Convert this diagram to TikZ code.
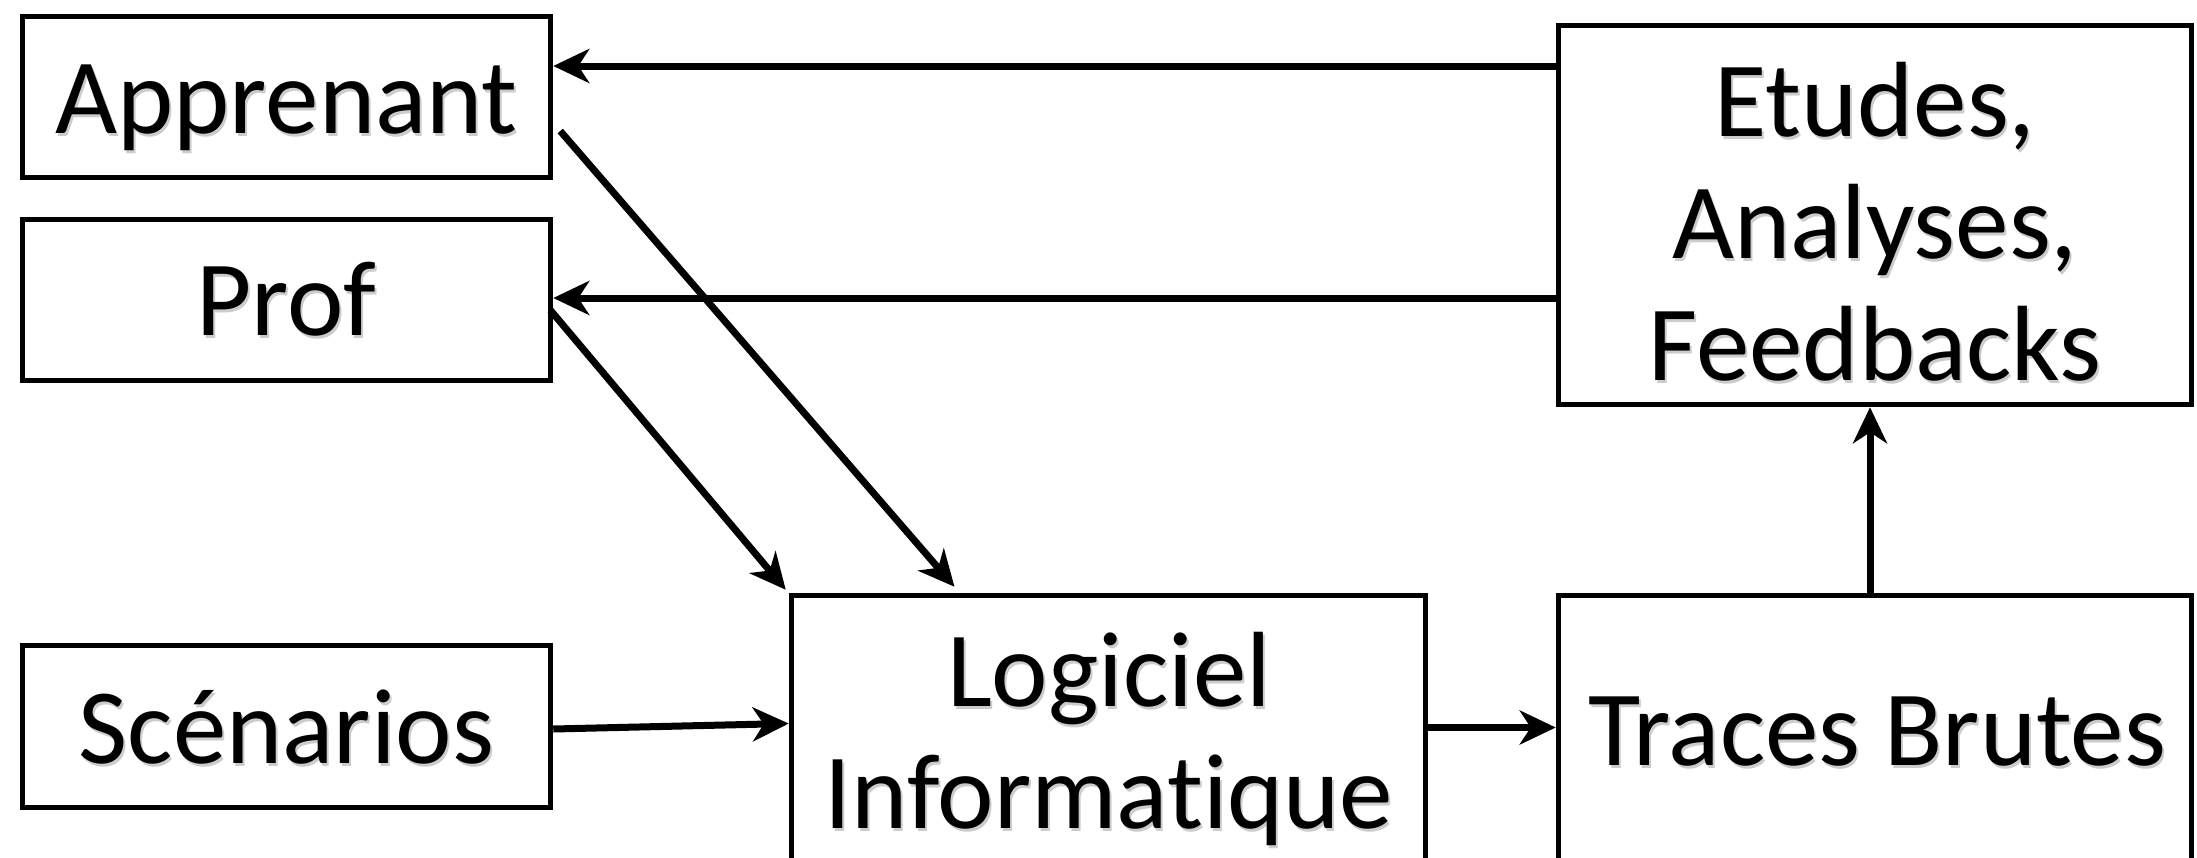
\documentclass[tikz,border=0pt]{standalone}
\usepackage{fontspec}
\setmainfont[Ligatures=NoCommon]{Carlito}
\usetikzlibrary{arrows.meta}
\newcommand\bigtxt{\fontsize{107}{122}\selectfont}
\tikzset{
  box/.style={draw=black, line width=5.5pt, fill=white, inner sep=0pt, shape=rectangle},
  lbl/.style={anchor=base, inner sep=0pt, font=\bigtxt, align=center, text=black},
  shd/.style={anchor=base, inner sep=0pt, font=\bigtxt, align=center, text=black, opacity=0.2},
  arr/.style={draw=black, line width=7pt, -{Stealth[length=36pt, width=34pt, inset=11pt]}},
}
\begin{document}
\begin{tikzpicture}[x=1pt, y=-1pt]
\useasboundingbox (0,0) rectangle (2197,857);
\clip (0,0) rectangle (2197,857);
\fill[white] (0,0) rectangle (2197,857);

% boxes
\node[box, minimum width=528pt, minimum height=161pt] (app) at (286.5,97) {};
\node[box, minimum width=528pt, minimum height=161pt] (prof) at (286.5,300) {};
\node[box, minimum width=528pt, minimum height=162pt] (scen) at (286.5,726.5) {};
\node[box, minimum width=634pt, minimum height=284pt] (logi) at (1108.5,737.5) {};
\node[box, minimum width=633pt, minimum height=284pt] (traces) at (1875,737.5) {};
\node[box, minimum width=633pt, minimum height=379pt] (etudes) at (1875,215) {};

% text shadows
\node[shd] (s-app) at (288.5,136) {Apprenant};
\node[shd] (s-prof) at (288.5,338) {Prof};
\node[shd] (s-scen) at (288.5,766) {Scénarios};
\node[shd] (s-logi) at (1111,831) {Logiciel\\Informatique};
\node[shd] (s-traces) at (1879,768) {Traces Brutes};
\node[shd] (s-etudes) at (1877,383) {Etudes,\\Analyses,\\Feedbacks};

% texts
\node[lbl] (t-app) at (286.5,133) {Apprenant};
\node[lbl] (t-prof) at (286.5,335) {Prof};
\node[lbl] (t-scen) at (286.5,763) {Scénarios};
\node[lbl] (t-logi) at (1109,828) {Logiciel\\Informatique};
\node[lbl] (t-traces) at (1877,765) {Traces Brutes};
\node[lbl] (t-etudes) at (1875,380) {Etudes,\\Analyses,\\Feedbacks};

% connectors
\draw[arr] ([yshift=149pt]etudes.west) -- ([yshift=31pt]app.east);
\draw[arr] ([yshift=-83pt]etudes.west) -- ([yshift=2pt]prof.east);
\draw[arr] ([xshift=7pt,yshift=-34pt]app.east) -- ([xshift=-154pt,yshift=6pt]logi.north);
\draw[arr] ([xshift=-3pt,yshift=-10pt]prof.east) -- ([xshift=-3pt,yshift=3pt]logi.north west);
\draw[arr] ([yshift=-2.5pt]scen.east) -- ([yshift=14pt]logi.west);
\draw[arr] ([yshift=10pt]logi.east) -- ([yshift=10pt]traces.west);
\draw[arr] ([xshift=-5pt]traces.north) -- ([xshift=-5pt]etudes.south);
\end{tikzpicture}
\end{document}
